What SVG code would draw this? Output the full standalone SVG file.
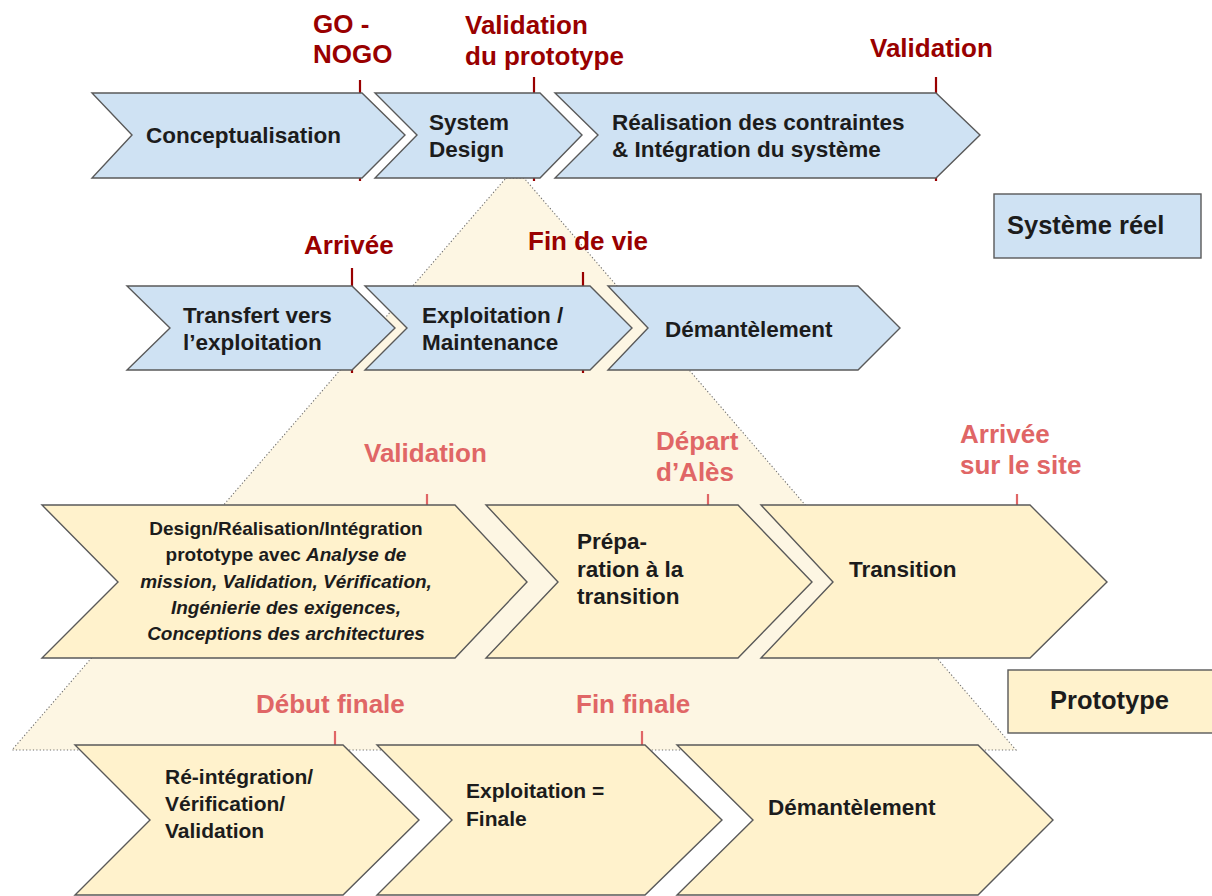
<svg xmlns="http://www.w3.org/2000/svg" width="1212" height="896" viewBox="0 0 1212 896">
  <style>
    .blue { fill: #cfe2f3; stroke: #595959; stroke-width: 1.4; stroke-linejoin: miter; }
    .yel { fill: #fff2cc; stroke: #595959; stroke-width: 1.4; stroke-linejoin: miter; }
    .zone { fill: #fdf6e3; stroke: #6f6f6f; stroke-width: 1.1; stroke-dasharray: 1.2 2.2; }
    text { font-family: "Liberation Sans", Arial, sans-serif; font-weight: bold; }
    .lbl { fill: #1c1c1c; font-size: 22.5px; }
    .lbl-s { fill: #1c1c1c; font-size: 21px; }
    .lbl-xs { fill: #1c1c1c; font-size: 19px; }
    .leg { fill: #1c1c1c; font-size: 25.5px; }
    .ms-dark { fill: #990000; font-size: 26px; }
    .ms-light { fill: #e06666; font-size: 26px; }
    .tick-dark { stroke: #990000; stroke-width: 2.2; }
    .tick-light { stroke: #e06666; stroke-width: 2.2; }
  </style>

  <rect width="1212" height="896" fill="#ffffff"/>

  <!-- prototype scope: pale trapezoid behind the lower rows -->
  <polygon id="prototype-zone" class="zone" points="506,178 524,178 1016,750 12,750"/>

  <!-- milestone ticks (drawn beneath the chevrons so only the ends show) -->
  <g id="connectors">
    <line class="tick-dark" x1="360" y1="80" x2="360" y2="181"/>
    <line class="tick-dark" x1="534" y1="77" x2="534" y2="181"/>
    <line class="tick-dark" x1="936" y1="77" x2="936" y2="181"/>
    <line class="tick-dark" x1="352" y1="268" x2="352" y2="373"/>
    <line class="tick-dark" x1="583" y1="272" x2="583" y2="373"/>
    <line class="tick-light" x1="427" y1="494" x2="427" y2="520"/>
    <line class="tick-light" x1="708" y1="494" x2="708" y2="520"/>
    <line class="tick-light" x1="1017" y1="494" x2="1017" y2="520"/>
    <line class="tick-light" x1="335" y1="731" x2="335" y2="760"/>
    <line class="tick-light" x1="642" y1="731" x2="642" y2="760"/>
  </g>

  <!-- real system: design phases -->
  <g id="conceptualisation">
    <polygon class="blue" points="92,93 362,93 405,135 362,178 92,178 132,135"/>
    <text class="lbl" x="146" y="143">Conceptualisation</text>
  </g>
  <g id="system-design">
    <polygon class="blue" points="375,93 540,93 582,135 540,178 375,178 417,135"/>
    <text class="lbl" x="429" y="130">System</text>
    <text class="lbl" x="429" y="157">Design</text>
  </g>
  <g id="realisation">
    <polygon class="blue" points="555,93 936,93 980,135 936,178 555,178 598,135"/>
    <text class="lbl" x="612" y="130">Réalisation des contraintes</text>
    <text class="lbl" x="612" y="157">&amp; Intégration du système</text>
  </g>

  <!-- real system: operating phases -->
  <g id="transfert">
    <polygon class="blue" points="127,286 352,286 395,328 352,370 127,370 170,328"/>
    <text class="lbl" x="183" y="323">Transfert vers</text>
    <text class="lbl" x="183" y="350">l’exploitation</text>
  </g>
  <g id="exploitation">
    <polygon class="blue" points="365,286 590,286 632,328 590,370 365,370 407,328"/>
    <text class="lbl" x="422" y="323">Exploitation /</text>
    <text class="lbl" x="422" y="350">Maintenance</text>
  </g>
  <g id="demantelement-reel">
    <polygon class="blue" points="608,286 858,286 900,328 858,370 608,370 648,328"/>
    <text class="lbl" x="665" y="337">Démantèlement</text>
  </g>

  <!-- prototype phases -->
  <g id="design-prototype">
    <polygon class="yel" points="42,505 455,505 527,582 455,658 42,658 118,582"/>
    <text class="lbl-xs" text-anchor="middle" x="286" y="535">Design/Réalisation/Intégration</text>
    <text class="lbl-xs" text-anchor="middle" x="286" y="561">prototype avec <tspan font-style="italic">Analyse de</tspan></text>
    <text class="lbl-xs" text-anchor="middle" x="286" y="587.5" font-style="italic">mission, Validation, Vérification,</text>
    <text class="lbl-xs" text-anchor="middle" x="286" y="614" font-style="italic">Ingénierie des exigences,</text>
    <text class="lbl-xs" text-anchor="middle" x="286" y="640" font-style="italic">Conceptions des architectures</text>
  </g>
  <g id="preparation">
    <polygon class="yel" points="486,505 738,505 812,582 738,658 486,658 558,582"/>
    <text class="lbl" x="577" y="549">Prépa-</text>
    <text class="lbl" x="577" y="577">ration à la</text>
    <text class="lbl" x="577" y="604">transition</text>
  </g>
  <g id="transition">
    <polygon class="yel" points="761,505 1030,505 1107,582 1030,658 761,658 833,582"/>
    <text class="lbl" x="849" y="577">Transition</text>
  </g>

  <!-- final campaign phases -->
  <g id="reintegration">
    <polygon class="yel" points="75,745 343,745 419,820 343,895 75,895 150,820"/>
    <text class="lbl-s" x="165" y="784">Ré-intégration/</text>
    <text class="lbl-s" x="165" y="811">Vérification/</text>
    <text class="lbl-s" x="165" y="838">Validation</text>
  </g>
  <g id="exploitation-finale">
    <polygon class="yel" points="377,745 645,745 722,820 645,895 377,895 452,820"/>
    <text class="lbl-s" x="466" y="798">Exploitation =</text>
    <text class="lbl-s" x="466" y="826">Finale</text>
  </g>
  <g id="demantelement-proto">
    <polygon class="yel" points="677,745 978,745 1053,820 978,895 677,895 753,820"/>
    <text class="lbl" x="768" y="815">Démantèlement</text>
  </g>

  <!-- legend -->
  <g id="legend-reel">
    <rect class="blue" x="994" y="194" width="207" height="64"/>
    <text class="leg" x="1007" y="234">Système réel</text>
  </g>
  <g id="legend-prototype">
    <rect class="yel" x="1008" y="670" width="210" height="63"/>
    <text class="leg" x="1050" y="709">Prototype</text>
  </g>

  <!-- milestone labels -->
  <g id="milestones">
    <text class="ms-dark" x="313" y="33">GO -</text>
    <text class="ms-dark" x="313" y="63">NOGO</text>
    <text class="ms-dark" x="465" y="34">Validation</text>
    <text class="ms-dark" x="465" y="65">du prototype</text>
    <text class="ms-dark" x="870" y="57">Validation</text>
    <text class="ms-dark" x="304" y="254">Arrivée</text>
    <text class="ms-dark" x="528" y="250">Fin de vie</text>
    <text class="ms-light" x="364" y="462">Validation</text>
    <text class="ms-light" x="656" y="450">Départ</text>
    <text class="ms-light" x="656" y="481">d’Alès</text>
    <text class="ms-light" x="960" y="443">Arrivée</text>
    <text class="ms-light" x="960" y="474">sur le site</text>
    <text class="ms-light" x="256" y="713">Début finale</text>
    <text class="ms-light" x="576" y="713">Fin finale</text>
  </g>
</svg>
